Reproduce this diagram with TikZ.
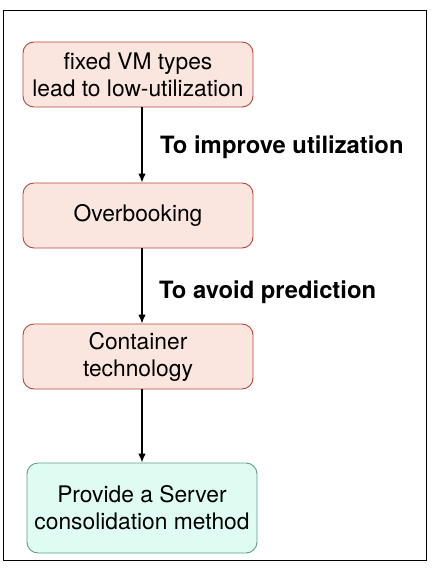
\documentclass[tikz,border=0pt]{standalone}
\usepackage{fontspec}
\setmainfont{TeX Gyre Heros}
\usepackage{tikz}
\usetikzlibrary{arrows.meta}

\definecolor{redfill}{HTML}{FBE6DF}
\definecolor{redline}{HTML}{B5483C}
\definecolor{greenfill}{HTML}{DFFCF3}
\definecolor{greenline}{HTML}{5E9E94}

\begin{document}
\begin{tikzpicture}[x=1pt, y=-1pt,
  stage/.style={draw=redline, fill=redfill, rounded corners=11pt, line width=0.9pt,
    minimum width=230pt, minimum height=65pt, align=center,
    font=\fontsize{22.8}{27}\selectfont, inner sep=0pt},
  goal/.style={stage, draw=greenline, fill=greenfill, minimum height=90pt},
  reason/.style={anchor=west, font=\fontsize{23.8}{28}\selectfont\bfseries, inner sep=0pt},
  link/.style={-{Latex[length=9pt,width=7.5pt]}, line width=1.3pt}]
\useasboundingbox (0,0) rectangle (447,580);

% Frame
\draw[line width=1pt] (3.3,10.3) rectangle (426,560);

% Boxes
\node[stage] (fixed) at (138,74.5) {fixed VM types\\lead to low-utilization};
\node[stage] (overbook) at (138,215.5) {Overbooking};
\node[stage] (container) at (138,356.5) {Container\\technology};
\node[goal] (method) at (142,508) {Provide a Server\\consolidation method};

% Arrows
\draw[link] (fixed.south -| method) -- (overbook.north -| method);
\draw[link] (overbook.south -| method) -- (container.north -| method);
\draw[link] (container.south -| method) -- (method.north);

% Labels
\node[reason] (improve) at (160,147) {To improve utilization};
\node[reason] (avoid) at (159,292) {To avoid prediction};
\end{tikzpicture}
\end{document}
